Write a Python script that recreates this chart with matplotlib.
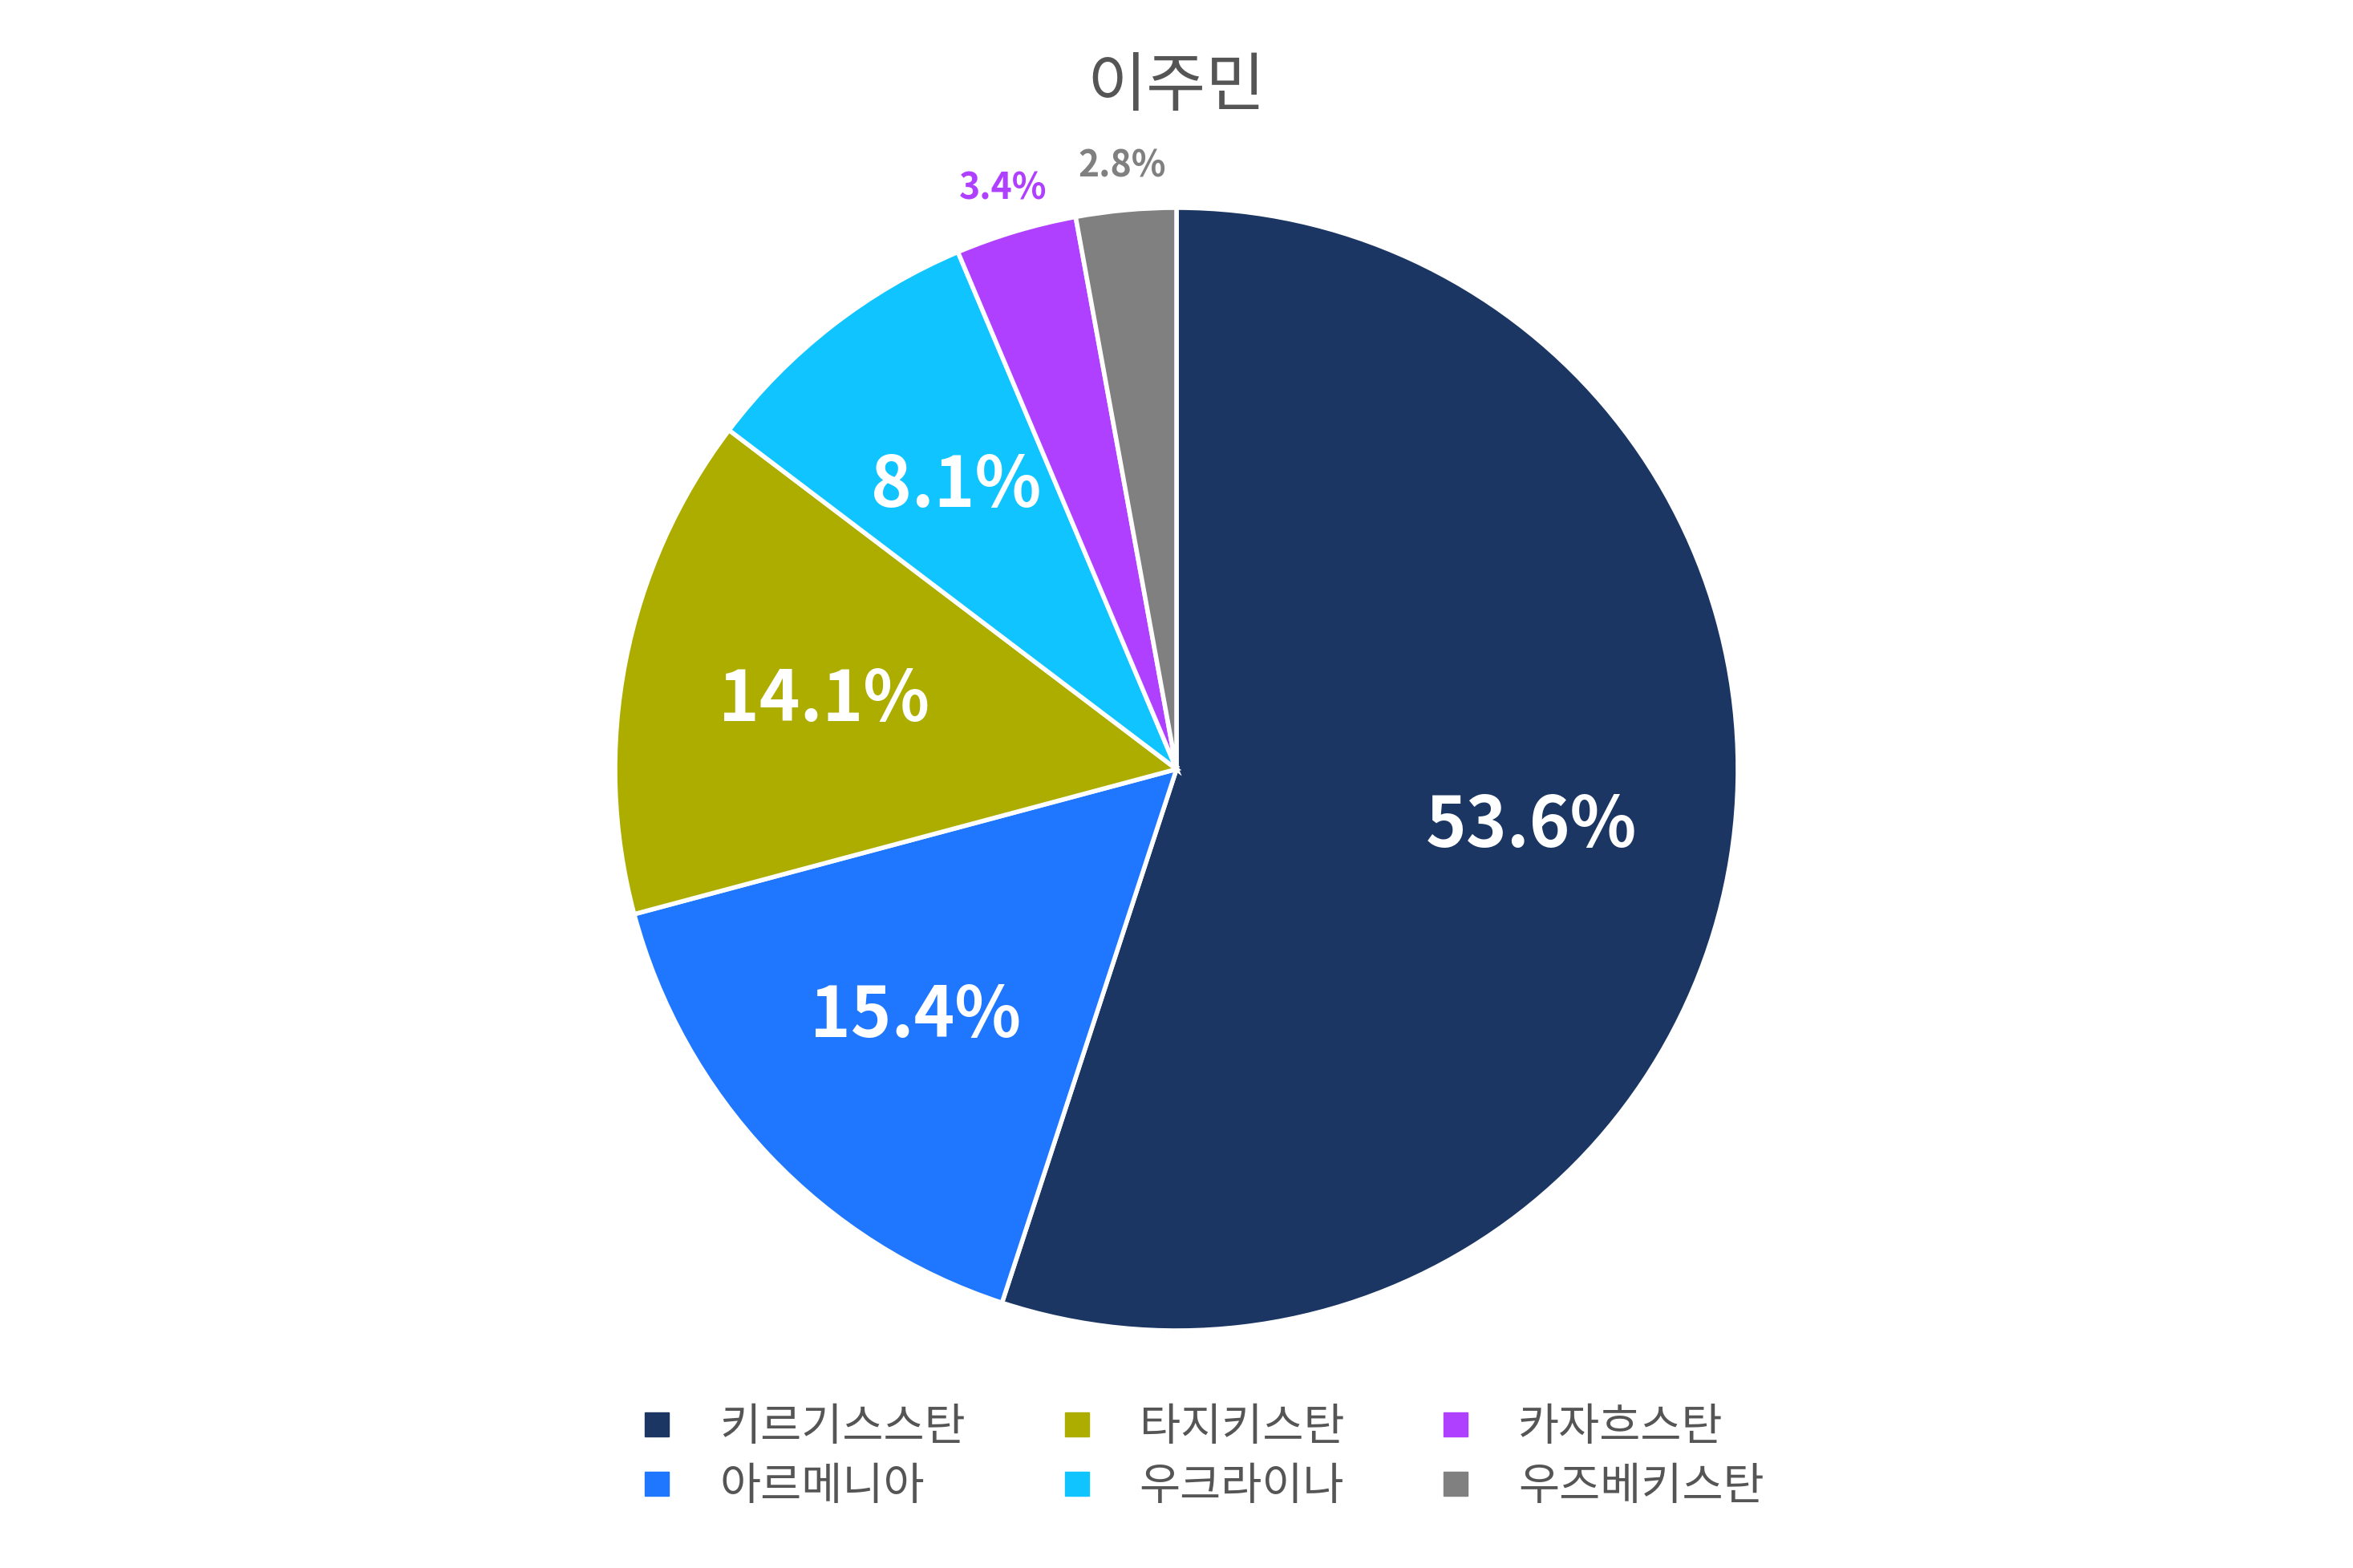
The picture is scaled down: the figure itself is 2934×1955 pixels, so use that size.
import matplotlib
matplotlib.use("Agg")
import matplotlib.pyplot as plt
import numpy as np
from matplotlib.lines import Line2D

title = "이주민"
categories = ["키르기스스탄", "아르메니아", "타지키스탄", "우크라이나", "카자흐스탄", "우즈베키스탄"]
values = [53.6, 15.4, 14.1, 8.1, 3.4, 2.8]
colors = ["#1B3663", "#1F77FF", "#ADAD00", "#10C5FF", "#B040FF", "#808080"]

FONT = "Noto Sans CJK KR"
W, H = 2934, 1956
fig = plt.figure(figsize=(W/100, H/100), dpi=100)
cx, cy, r = 1467, 960, 700
ax = fig.add_axes([(cx-r)/W, (H-cy-r)/H, 2*r/W, 2*r/H])
wedges, _ = ax.pie(values, colors=colors, startangle=90, counterclock=False,
                   wedgeprops=dict(edgecolor="white", linewidth=4))
ax.set_xlim(-1, 1); ax.set_ylim(-1, 1); ax.set_aspect("equal"); ax.axis("off")

for w, v, c in zip(wedges, values, colors):
    ang = np.deg2rad((w.theta1 + w.theta2) / 2)
    if v >= 5:
        d = 0.64
        ax.text(d*np.cos(ang), d*np.sin(ang), f"{v}%", ha="center", va="center",
                color="white", fontsize=62, fontweight="bold", family=FONT)
    else:
        d = 1.08
        ax.text(d*np.cos(ang), d*np.sin(ang), f"{v}%", ha="center", va="center",
                color=c, fontsize=32, fontweight="bold", family=FONT)

fig.text(0.5, 1-58/1045, title, ha="center", va="center", fontsize=58,
         color="#555555", family=FONT)

handles = [Line2D([], [], marker="s", linestyle="none", markersize=22,
                  markerfacecolor=c, markeredgecolor=c) for c in colors]
fig.legend(handles, categories, loc="center", bbox_to_anchor=(0.505, 1-971/1045),
           ncol=3, frameon=False, prop=dict(family=FONT, size=40),
           labelcolor="#555555", columnspacing=1.5, handletextpad=0.4,
           labelspacing=0.3)
fig.savefig("out.png", dpi=100, facecolor="white")
